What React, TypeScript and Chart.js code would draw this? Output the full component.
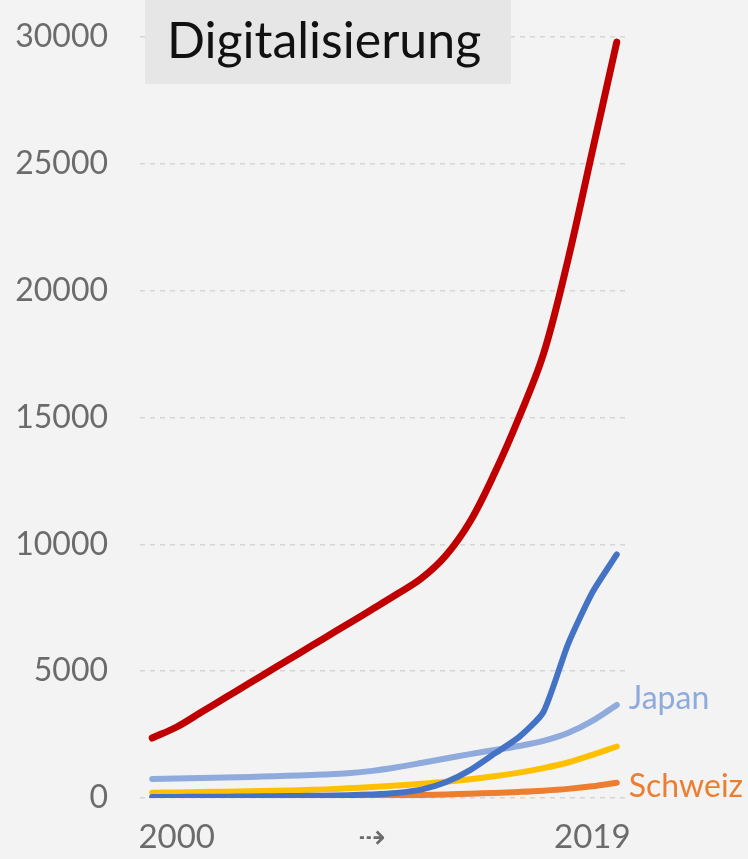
import React, { useEffect, useRef } from "react";
import { Chart, registerables } from "chart.js";

Chart.register(...registerables);

const years = [
  "2000", "2001", "2002", "2003", "2004", "2005", "2006", "2007", "2008", "2009",
  "2010", "2011", "2012", "2013", "2014", "2015", "2016", "2017", "2018", "2019",
];

const seriesRed = [2365, 2800, 3380, 3960, 4540, 5120, 5700, 6280, 6860, 7440, 8030, 8650, 9550, 10900, 12800, 15000, 17500, 21200, 25500, 29800];
const seriesBlue = [40, 40, 50, 50, 60, 70, 80, 90, 110, 140, 200, 330, 620, 1100, 1750, 2400, 3390, 6050, 8100, 9600];
const seriesJapan = [750, 770, 790, 810, 830, 860, 890, 930, 980, 1070, 1210, 1380, 1560, 1730, 1890, 2050, 2250, 2560, 3040, 3670];
const seriesGold = [210, 220, 235, 250, 270, 290, 310, 340, 380, 430, 490, 560, 640, 740, 860, 1000, 1180, 1400, 1700, 2030];
const seriesSchweiz = [30, 35, 40, 45, 50, 55, 60, 70, 80, 90, 100, 120, 140, 170, 200, 240, 290, 360, 460, 600];

const yTicks = [0, 5000, 10000, 15000, 20000, 25000, 30000];
const xTickIndex = [1, 9, 18];
const xTickText = ["2000", "\u21E2", "2019"];

const titleText = "Digitalisierung";

export default function App() {
  const ref = useRef<HTMLCanvasElement | null>(null);

  useEffect(() => {
    if (!ref.current) return;

    const decorPlugin = {
      id: "decor",
      beforeDraw(chart: any) {
        const ctx = chart.ctx;
        ctx.save();
        ctx.fillStyle = "#f3f3f3";
        ctx.fillRect(0, 0, chart.width, chart.height);
        ctx.restore();
      },
      afterDraw(chart: any) {
        const ctx = chart.ctx;
        ctx.save();
        // title box
        ctx.fillStyle = "#e6e6e6";
        ctx.fillRect(145, 0, 366, 84);
        ctx.fillStyle = "#111111";
        ctx.font = "50px Lato";
        ctx.textBaseline = "alphabetic";
        ctx.textAlign = "left";
        ctx.fillText(titleText, 167, 58);
        // end labels
        chart.data.datasets.forEach((ds: any, i: number) => {
          if (!ds.endLabel) return;
          const meta = chart.getDatasetMeta(i);
          const pt = meta.data[meta.data.length - 1];
          ctx.fillStyle = ds.labelColor;
          ctx.font = "32px Lato";
          ctx.textAlign = "left";
          ctx.textBaseline = "alphabetic";
          ctx.fillText(ds.label, pt.x + 12, pt.y + ds.labelDy);
        });
        ctx.restore();
      },
    };

    const mk = (label: string, data: number[], color: string, width: number, extra: any = {}) => ({
      label,
      data,
      borderColor: color,
      backgroundColor: color,
      borderWidth: width,
      pointRadius: 0,
      tension: 0.35,
      borderCapStyle: "round",
      borderJoinStyle: "round",
      fill: false,
      ...extra,
    });

    const chart = new Chart(ref.current, {
      type: "line",
      data: {
        labels: years,
        datasets: [
          mk("Reihe 1", seriesRed, "#c00000", 7),
          mk("Reihe 2", seriesBlue, "#4472c4", 6, { tension: 0.2 }),
          mk("Japan", seriesJapan, "#8faadc", 6, { endLabel: true, labelColor: "#8faadc", labelDy: 4 }),
          mk("Reihe 4", seriesGold, "#ffc000", 6),
          mk("Schweiz", seriesSchweiz, "#ed7d31", 6, { endLabel: true, labelColor: "#ed7d31", labelDy: 14 }),
        ] as any,
      },
      options: {
        responsive: false,
        animation: false,
        layout: { padding: { left: 0, right: 119, top: 37, bottom: 0 } },
        plugins: {
          legend: { display: false },
          tooltip: { enabled: false },
          title: { display: false },
        },
        scales: {
          x: {
            type: "category",
            offset: true,
            grid: { display: false, drawTicks: false },
            border: { display: false },
            afterFit: (axis: any) => {
              axis.height = 61;
              axis.paddingTop = 0;
              axis.paddingBottom = 0;
            },
            ticks: {
              autoSkip: false,
              maxRotation: 0,
              padding: 20,
              color: "#6b6b6b",
              font: { family: "Lato", size: 33 },
              callback: (_v: any, idx: number) => {
                const k = xTickIndex.indexOf(idx);
                return k >= 0 ? xTickText[k] : "";
              },
            },
          },
          y: {
            min: 0,
            max: 30000,
            afterBuildTicks: (axis: any) => {
              axis.ticks = yTicks.map((v) => ({ value: v }));
            },
            afterFit: (axis: any) => {
              axis.width = 140;
              axis.paddingTop = 0;
              axis.paddingBottom = 0;
            },
            grid: {
              color: "#d6d6d6",
              lineWidth: 1.5,
              drawTicks: false,
            },
            border: { display: false, dash: [5, 5] },
            ticks: {
              padding: 32,
              color: "#6b6b6b",
              font: { family: "Lato", size: 32 },
              callback: (v: any) => String(v),
            },
          },
        },
      },
      plugins: [decorPlugin],
    });

    return () => chart.destroy();
  }, []);

  return (
    <div style={{ position: "absolute", left: 0, top: 0, width: 748, height: 859, background: "#f3f3f3" }}>
      <canvas ref={ref} width={748} height={859} />
    </div>
  );
}
